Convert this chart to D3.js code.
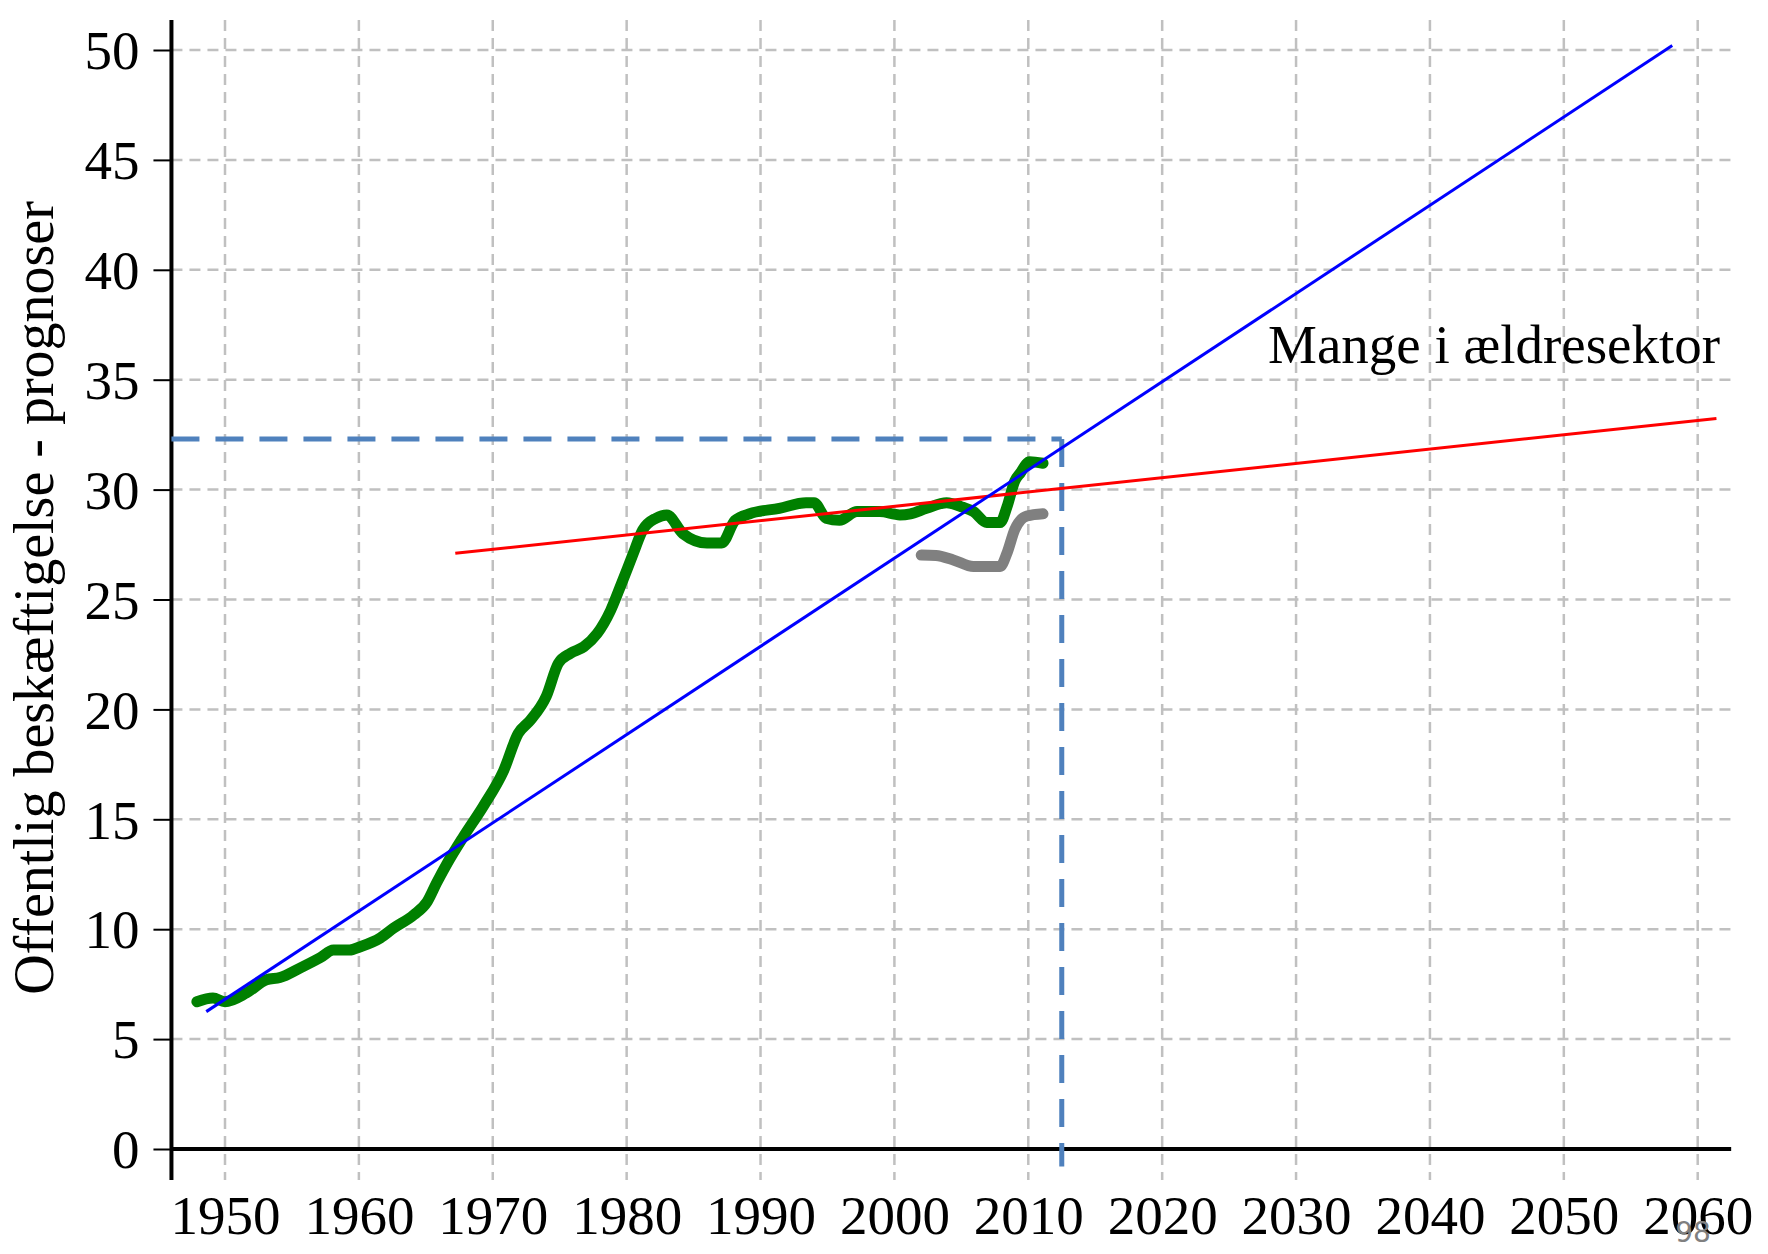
<!DOCTYPE html>
<html>
<head>
<meta charset="utf-8">
<script src="https://cdn.jsdelivr.net/npm/d3@7"></script>
<style>
  body { margin: 0; background: #fff; }
  svg text { font-family: "Liberation Serif", "Times New Roman", serif; }
</style>
</head>
<body>
<div id="graf"></div>
<script>
// data
const aarGroen = [1947.9, 1949.1, 1950.0, 1951.6, 1953.1, 1954.1, 1955.6, 1957.1, 1958.1, 1959.3,
  1960.1, 1961.6, 1962.6, 1964.1, 1965.1, 1965.8, 1966.6, 1967.8, 1969.3, 1970.8,
  1971.9, 1972.8, 1974.0, 1974.9, 1975.8, 1976.8, 1977.8, 1978.8, 1979.6, 1980.5,
  1981.2, 1982.2, 1983.0, 1984.2, 1986.0, 1987.1, 1988.1, 1989.2, 1991.4, 1993.4,
  1994.0, 1994.9, 1995.9, 1997.2, 1998.9, 2000.4, 2001.2, 2002.4, 2003.9, 2005.1,
  2005.9, 2006.9, 2007.9, 2008.4, 2009.0, 2009.4, 2010.1, 2011.1];
const vaerdiGroen = [6.7, 6.87, 6.7, 7.1, 7.7, 7.8, 8.23, 8.7, 9.05, 9.05,
  9.2, 9.6, 10.05, 10.65, 11.25, 12.1, 13.0, 14.2, 15.6, 17.2,
  18.9, 19.5, 20.6, 22.1, 22.55, 22.85, 23.45, 24.5, 25.7, 27.1,
  28.16, 28.7, 28.85, 28.0, 27.57, 27.57, 28.6, 28.9, 29.15, 29.4,
  29.4, 28.7, 28.6, 29.0, 29.0, 28.85, 28.9, 29.15, 29.4, 29.2,
  29.0, 28.5, 28.5, 29.2, 30.4, 30.75, 31.27, 31.2];

const aarGraa = [2002.0, 2003.1, 2004.4, 2005.9, 2007.9, 2008.4, 2009.0, 2009.9, 2011.1];
const vaerdiGraa = [27.02, 27.0, 26.8, 26.5, 26.5, 27.1, 28.2, 28.8, 28.9];

const trendBlaa = [[1948.6, 6.25], [2058.1, 50.2]];
const trendRoed = [[1967.2, 27.1], [2061.4, 33.24]];

const markAar = 2012.5;
const markVaerdi = 32.3;

const xTicks = [1950, 1960, 1970, 1980, 1990, 2000, 2010, 2020, 2030, 2040, 2050, 2060];
const yTicks = [0, 5, 10, 15, 20, 25, 30, 35, 40, 45, 50];

const tekstY = "Offentlig beskæftigelse - prognoser";
const tekstNote = "Mange i ældresektor";
const sideNr = "98";

const bredde = 1768, hoejde = 1254;

const svg = d3.select("#graf").append("svg")
  .attr("width", bredde)
  .attr("height", hoejde);

const x = d3.scaleLinear().domain([1950, 2060]).range([225, 1697.7]);
const y = d3.scaleLinear().domain([0, 50]).range([1149, 50]);

const venstre = x(1946), hoejre = x(2062.5);
const akseTop = 20, akseBund = 1180;

// gitter
svg.selectAll("line.gitY")
  .data(yTicks.filter(d => d > 0))
  .enter().append("line")
  .attr("class", "gitY")
  .attr("x1", venstre).attr("x2", hoejre)
  .attr("y1", d => y(d)).attr("y2", d => y(d))
  .attr("stroke", "#c0c0c0").attr("stroke-width", 2.5)
  .attr("stroke-dasharray", "11,7");

svg.selectAll("line.gitX")
  .data(xTicks)
  .enter().append("line")
  .attr("class", "gitX")
  .attr("x1", d => x(d)).attr("x2", d => x(d))
  .attr("y1", akseTop).attr("y2", akseBund)
  .attr("stroke", "#c0c0c0").attr("stroke-width", 2.5)
  .attr("stroke-dasharray", "11,7");

// akser
const yAkse = svg.append("g")
  .attr("transform", `translate(${venstre},0)`)
  .call(d3.axisLeft(y).tickValues(yTicks).tickSize(18).tickPadding(14));
yAkse.select(".domain").remove();
yAkse.selectAll(".tick line").attr("stroke", "black").attr("stroke-width", 2);
yAkse.selectAll(".tick text")
  .attr("font-size", 55).attr("fill", "black")
  .attr("font-family", "Liberation Serif, Times New Roman, serif")
  .attr("dy", "0.34em");

const xAkse = svg.append("g")
  .attr("transform", `translate(0,${y(0)})`)
  .call(d3.axisBottom(x).tickValues(xTicks).tickFormat(d3.format("d")).tickSize(0).tickPadding(0));
xAkse.select(".domain").remove();
xAkse.selectAll(".tick text")
  .attr("font-size", 55).attr("fill", "black")
  .attr("font-family", "Liberation Serif, Times New Roman, serif")
  .attr("y", 85).attr("dy", 0);

svg.append("line")
  .attr("x1", venstre).attr("x2", venstre)
  .attr("y1", akseTop).attr("y2", akseBund)
  .attr("stroke", "black").attr("stroke-width", 4);
svg.append("line")
  .attr("x1", venstre).attr("x2", hoejre)
  .attr("y1", y(0)).attr("y2", y(0))
  .attr("stroke", "black").attr("stroke-width", 4);

// markering
svg.append("line")
  .attr("x1", venstre).attr("x2", x(markAar))
  .attr("y1", y(markVaerdi)).attr("y2", y(markVaerdi))
  .attr("stroke", "#4f81bd").attr("stroke-width", 5)
  .attr("stroke-dasharray", "28,16");
svg.append("line")
  .attr("x1", x(markAar)).attr("x2", x(markAar))
  .attr("y1", y(markVaerdi)).attr("y2", y(-0.8))
  .attr("stroke", "#4f81bd").attr("stroke-width", 5)
  .attr("stroke-dasharray", "28,16");

const linje = d3.line().x(d => x(d[0])).y(d => y(d[1]));
const linjeBlod = d3.line().x(d => x(d[0])).y(d => y(d[1])).curve(d3.curveMonotoneX);

svg.append("path")
  .attr("d", linjeBlod(d3.zip(aarGraa, vaerdiGraa)))
  .attr("fill", "none").attr("stroke", "#808080").attr("stroke-width", 11)
  .attr("stroke-linecap", "round").attr("stroke-linejoin", "round");

svg.append("path")
  .attr("d", linjeBlod(d3.zip(aarGroen, vaerdiGroen)))
  .attr("fill", "none").attr("stroke", "#008000").attr("stroke-width", 11)
  .attr("stroke-linecap", "round").attr("stroke-linejoin", "round");

svg.append("path")
  .attr("d", linje(trendRoed))
  .attr("fill", "none").attr("stroke", "#ff0000").attr("stroke-width", 3);

svg.append("path")
  .attr("d", linje(trendBlaa))
  .attr("fill", "none").attr("stroke", "#0000ff").attr("stroke-width", 3);

// tekster
svg.append("text")
  .attr("transform", `translate(53,598) rotate(-90)`)
  .attr("text-anchor", "middle")
  .attr("font-size", 56)
  .text(tekstY);

svg.append("text")
  .attr("x", 1268).attr("y", 363)
  .attr("font-size", 55)
  .text(tekstNote);

svg.append("text")
  .attr("x", 1693).attr("y", 1242)
  .attr("text-anchor", "middle")
  .attr("font-size", 28)
  .attr("fill", "#808080")
  .style("font-family", "DejaVu Sans, sans-serif")
  .text(sideNr);
</script>
</body>
</html>
